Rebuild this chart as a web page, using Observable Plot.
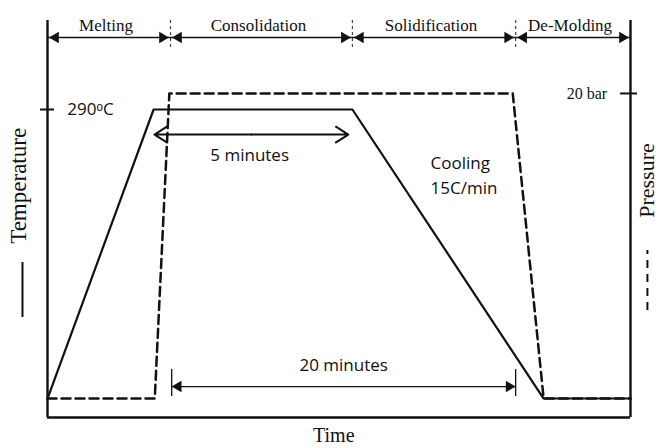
<!DOCTYPE html>
<html><head><meta charset="utf-8">
<script src="https://cdn.jsdelivr.net/npm/d3@7"></script>
<script src="https://cdn.jsdelivr.net/npm/@observablehq/plot@0.6"></script>
<style>
body{margin:0;background:#fff;}
</style></head><body><div id="chart"></div>
<script>
// Time in schematic units (0–100 across the process)
const tempTime  = [0, 18.2, 52.3, 85.1, 100];
const tempValue = [25, 290, 290, 25, 25];          // °C
const presTime  = [0, 18.4, 20.9, 79.8, 85.1, 100];
const presValue = [0, 0, 20, 20, 0, 0];             // bar
const phaseNames  = ["Melting", "Consolidation", "Solidification", "De-Molding"];
const phaseBounds = [0, 21.1, 52.3, 80.3, 100];
const tempTicks = [290];
const tempTickLabels = ["290ᵒC"];
const presTicks = [20];
const presTickLabels = ["20 bar"];
const holdSpan = [18.35, 51.6];      // "5 minutes"
const processSpan = [21.3, 80.3];    // "20 minutes"
const holdLabel = "5 minutes";
const processLabel = "20 minutes";
const coolingLabel = "Cooling\n15C/min";

const W = 659, H = 448;
const yDomain = [7.6, 371.6];
const presToY = d3.scaleLinear().domain([0, 20]).range([25, 304.7]);
const SERIF = "Liberation Serif, Times New Roman, serif";
const SANS = "Open Sans, sans-serif";
const INK = "#111";

const tempData = tempTime.map((t, i) => ({t, v: tempValue[i]}));
const presData = presTime.map((t, i) => ({t, v: presToY(presValue[i])}));
const phases = phaseNames.map((name, i) => ({name, x1: phaseBounds[i], x2: phaseBounds[i + 1], mid: (phaseBounds[i] + phaseBounds[i + 1]) / 2}));
const dividers = phaseBounds.slice(1, -1);

const headR = 4.2;
const tip = 2 * Math.sqrt(headR * headR * Math.PI / (3 * Math.sqrt(3)));
const yPhase = 356, yPhaseLabel = 367.4;
const yHold = 267, yHoldLabel = 248;
const yProc = 36, yProcLabel = 55.3;
const holdMid = (holdSpan[0] + holdSpan[1]) / 2;

const chart = Plot.plot({
  width: W, height: H,
  marginLeft: 47, marginRight: 29, marginTop: 20, marginBottom: 31,
  x: {domain: [0, 100], axis: null},
  y: {domain: yDomain, axis: null},
  marks: [
    // frame
    Plot.ruleX([0, 100], {y1: yDomain[0], y2: yDomain[1], stroke: INK, strokeWidth: 2.4}),
    Plot.ruleY([yDomain[0]], {x1: 0, x2: 100, stroke: INK, strokeWidth: 2.4}),
    // temperature tick
    Plot.ruleY(tempTicks, {x1: -1.2, x2: 1.2, stroke: INK, strokeWidth: 2}),
    Plot.text(tempTicks, {x: 3.4, y: d => d, text: (d, i) => tempTickLabels[i], textAnchor: "start", fontFamily: SANS, fontSize: 17, fill: INK}),
    // pressure tick
    Plot.ruleY(presTicks.map(presToY), {x1: 98.3, x2: 101.2, stroke: INK, strokeWidth: 2}),
    Plot.text(presTicks, {x: 96, y: d => presToY(d), text: (d, i) => presTickLabels[i], textAnchor: "end", fontFamily: SERIF, fontSize: 16, fill: INK}),
    // phases
    Plot.ruleX(dividers, {y1: 346.9, y2: 371.6, strokeDasharray: "3,3", stroke: "#444", strokeWidth: 1.2}),
    Plot.ruleY(phases, {x1: "x1", x2: "x2", y: yPhase, stroke: INK, strokeWidth: 1.4}),
    Plot.dot(phases, {x: "x1", y: yPhase, symbol: "triangle", r: headR, rotate: -90, fill: INK, stroke: "none", dx: tip + 1.5}),
    Plot.dot(phases, {x: "x2", y: yPhase, symbol: "triangle", r: headR, rotate: 90, fill: INK, stroke: "none", dx: -tip - 1.5}),
    Plot.text(phases, {x: "mid", y: yPhaseLabel, text: "name", fontFamily: SERIF, fontSize: 17, fill: INK, dx: -3}),
    // curves
    Plot.line(presData, {x: "t", y: "v", stroke: INK, strokeWidth: 2.5, strokeDasharray: "9,5"}),
    Plot.line(tempData, {x: "t", y: "v", stroke: INK, strokeWidth: 2.2}),
    // 5 minutes
    Plot.arrow([{a: holdMid, b: holdSpan[1]}, {a: holdMid, b: holdSpan[0]}], {x1: "a", x2: "b", y1: yHold, y2: yHold, stroke: INK, strokeWidth: 2, headLength: 11, headAngle: 65}),
    Plot.text([holdLabel], {x: holdMid - 0.3, y: yHoldLabel, fontFamily: SANS, fontSize: 17, fill: INK}),
    // 20 minutes
    Plot.ruleY([yProc], {x1: processSpan[0], x2: processSpan[1], stroke: INK, strokeWidth: 1.3}),
    Plot.ruleX(processSpan, {y1: 26.8, y2: 51.6, stroke: INK, strokeWidth: 1.3}),
    Plot.dot([processSpan[0]], {x: d => d, y: yProc, symbol: "triangle", r: headR, rotate: -90, fill: INK, stroke: "none", dx: tip}),
    Plot.dot([processSpan[1]], {x: d => d, y: yProc, symbol: "triangle", r: headR, rotate: 90, fill: INK, stroke: "none", dx: -tip}),
    Plot.text([processLabel], {x: (processSpan[0] + processSpan[1]) / 2, y: yProcLabel, fontFamily: SANS, fontSize: 17, fill: INK}),
    // cooling
    Plot.text([coolingLabel], {x: 65.7, y: 231.3, textAnchor: "start", lineHeight: 1.5, fontFamily: SANS, fontSize: 17, fill: INK}),
    // axis titles and legend keys
    Plot.text(["Temperature"], {x: -4.97, y: 220, rotate: -90, fontFamily: SERIF, fontSize: 23, fill: INK}),
    Plot.ruleX([-4.29], {y1: 99.3, y2: 149.7, stroke: INK, strokeWidth: 2}),
    Plot.text(["Pressure"], {x: 102.9, y: 224.9, rotate: -90, fontFamily: SERIF, fontSize: 22, fill: INK}),
    Plot.ruleX([102.9], {y1: 105.7, y2: 160.7, stroke: INK, strokeWidth: 2, strokeDasharray: "8,6"}),
    Plot.text(["Time"], {x: 49.1, frameAnchor: "bottom", dy: 24, fontFamily: SERIF, fontSize: 20, fill: INK})
  ]
});
document.getElementById("chart").appendChild(chart);
</script>
</body></html>
